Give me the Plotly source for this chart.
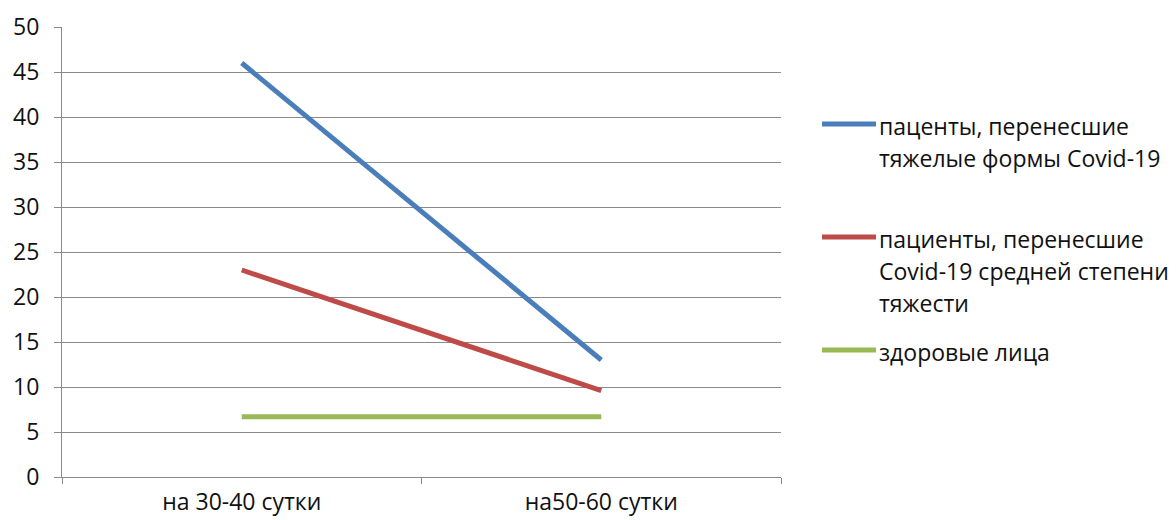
import plotly.graph_objects as go

# Periods on the x axis
periods = ["на 30-40 сутки", "на50-60 сутки"]

# Series values for each period
severe = [46, 13]
moderate = [23, 9.6]
healthy = [6.7, 6.7]

# Legend texts, one list entry per printed line
severe_label = ["паценты, перенесшие", "тяжелые формы Covid-19"]
moderate_label = ["пациенты, перенесшие", "Covid-19 средней степени", "тяжести"]
healthy_label = ["здоровые лица"]

y_ticks = [0, 5, 10, 15, 20, 25, 30, 35, 40, 45, 50]

FONT = "Open Sans"
FS = 23
GRID = "#8a8a8a"
TEXT = "#111111"

W, H = 1176, 520
L, R, T, B = 62, 395, 27, 43
PW, PH = W - L - R, H - T - B

series = [
    (severe, severe_label, "#4A7EBB", 124),
    (moderate, moderate_label, "#BE4B48", 237),
    (healthy, healthy_label, "#98B954", 350),
]

fig = go.Figure()
shapes = []
annotations = []


def px_x(px):
    return (px - L) / PW


def px_y(py):
    return (H - B - py) / PH


for values, label, color, ly in series:
    fig.add_trace(go.Scatter(
        x=periods, y=values, mode="lines",
        name=" ".join(label),
        line=dict(color=color, width=5),
        showlegend=False, hoverinfo="x+y",
    ))
    # legend swatch
    shapes.append(dict(
        type="line", xref="paper", yref="paper",
        x0=px_x(822), x1=px_x(876), y0=px_y(ly), y1=px_y(ly),
        line=dict(color=color, width=5),
    ))
    # legend text
    for i, line in enumerate(label):
        annotations.append(dict(
            xref="paper", yref="paper",
            x=px_x(877), y=px_y(ly + 2 + i * 32),
            xanchor="left", yanchor="middle",
            text=line, showarrow=False,
            font=dict(family=FONT, size=FS, color=TEXT),
        ))

fig.update_layout(
    width=W, height=H,
    margin=dict(l=L, r=R, t=T, b=B, pad=0, autoexpand=False),
    paper_bgcolor="white", plot_bgcolor="white",
    font=dict(family=FONT, size=FS, color=TEXT),
    shapes=shapes, annotations=annotations,
    showlegend=False,
)

fig.update_xaxes(
    type="category", range=[-0.5, 1.5],
    showgrid=False, showline=True, linecolor=GRID, linewidth=1,
    ticks="outside", tickson="boundaries", ticklen=6, tickcolor=GRID,
    ticklabelstandoff=4,
    tickfont=dict(family=FONT, size=FS, color=TEXT),
)
fig.update_yaxes(
    range=[0, 50], tickvals=y_ticks,
    showgrid=True, gridcolor=GRID, gridwidth=1,
    showline=True, linecolor=GRID, linewidth=1,
    ticks="outside", ticklen=7, tickcolor=GRID,
    ticklabelstandoff=10, zeroline=False,
    tickfont=dict(family=FONT, size=FS, color=TEXT),
)

fig.write_html("out.html")
